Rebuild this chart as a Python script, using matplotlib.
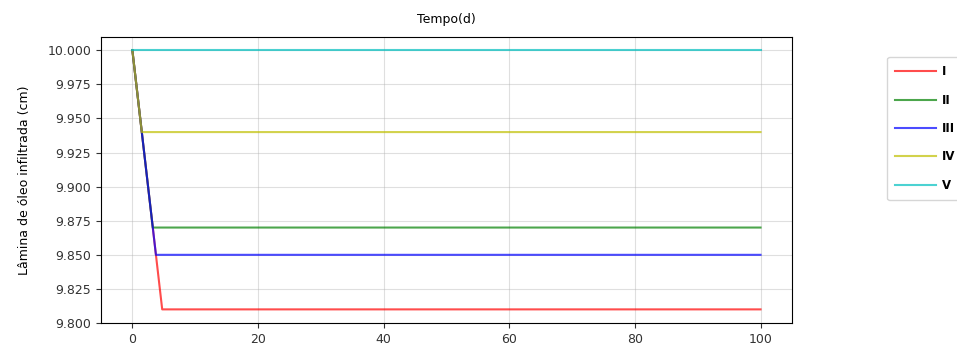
import matplotlib
matplotlib.use("Agg")
import matplotlib.pyplot as plt

# each curve falls linearly from 10 cm, then stays flat
labels = ["I", "II", "III", "IV", "V"]
colors = ["r", "g", "b", "y", "c"]
t_pts = [
    [0, 4.75, 100],
    [0, 3.25, 100],
    [0, 3.75, 100],
    [0, 1.5, 100],
    [0, 100],
]
h_pts = [
    [10.0, 9.81, 9.81],
    [10.0, 9.87, 9.87],
    [10.0, 9.85, 9.85],
    [10.0, 9.94, 9.94],
    [10.0, 10.0],
]

fig = plt.figure(figsize=(9.57, 3.44), dpi=100)
ax = fig.add_axes([0.1055, 0.061, 0.722, 0.831])

for t, h, c, lab in zip(t_pts, h_pts, colors, labels):
    ax.plot(t, h, color=c, alpha=0.7, linewidth=1.5, label=lab)

ax.set_xlim(-5, 105)
ax.set_ylim(9.8, 10.0096)
ax.set_yticks([9.8, 9.825, 9.85, 9.875, 9.9, 9.925, 9.95, 9.975, 10.0])
ax.yaxis.set_major_formatter(plt.FormatStrFormatter("%.3f"))
ax.tick_params(labelsize=9, colors="#333333")
ax.grid(alpha=0.4)
ax.set_title("Tempo(d)", fontsize=9, pad=10)
ax.set_ylabel("Lâmina de óleo infiltrada (cm)", fontsize=9, labelpad=12)

leg = fig.legend(loc="upper left", bbox_to_anchor=(0.927, 0.834),
                 prop={"weight": "bold", "size": 8.5},
                 handlelength=3.4, handletextpad=0.5, labelspacing=1.3,
                 borderpad=0.7, borderaxespad=0)
fig.savefig("out.png", dpi=100)
